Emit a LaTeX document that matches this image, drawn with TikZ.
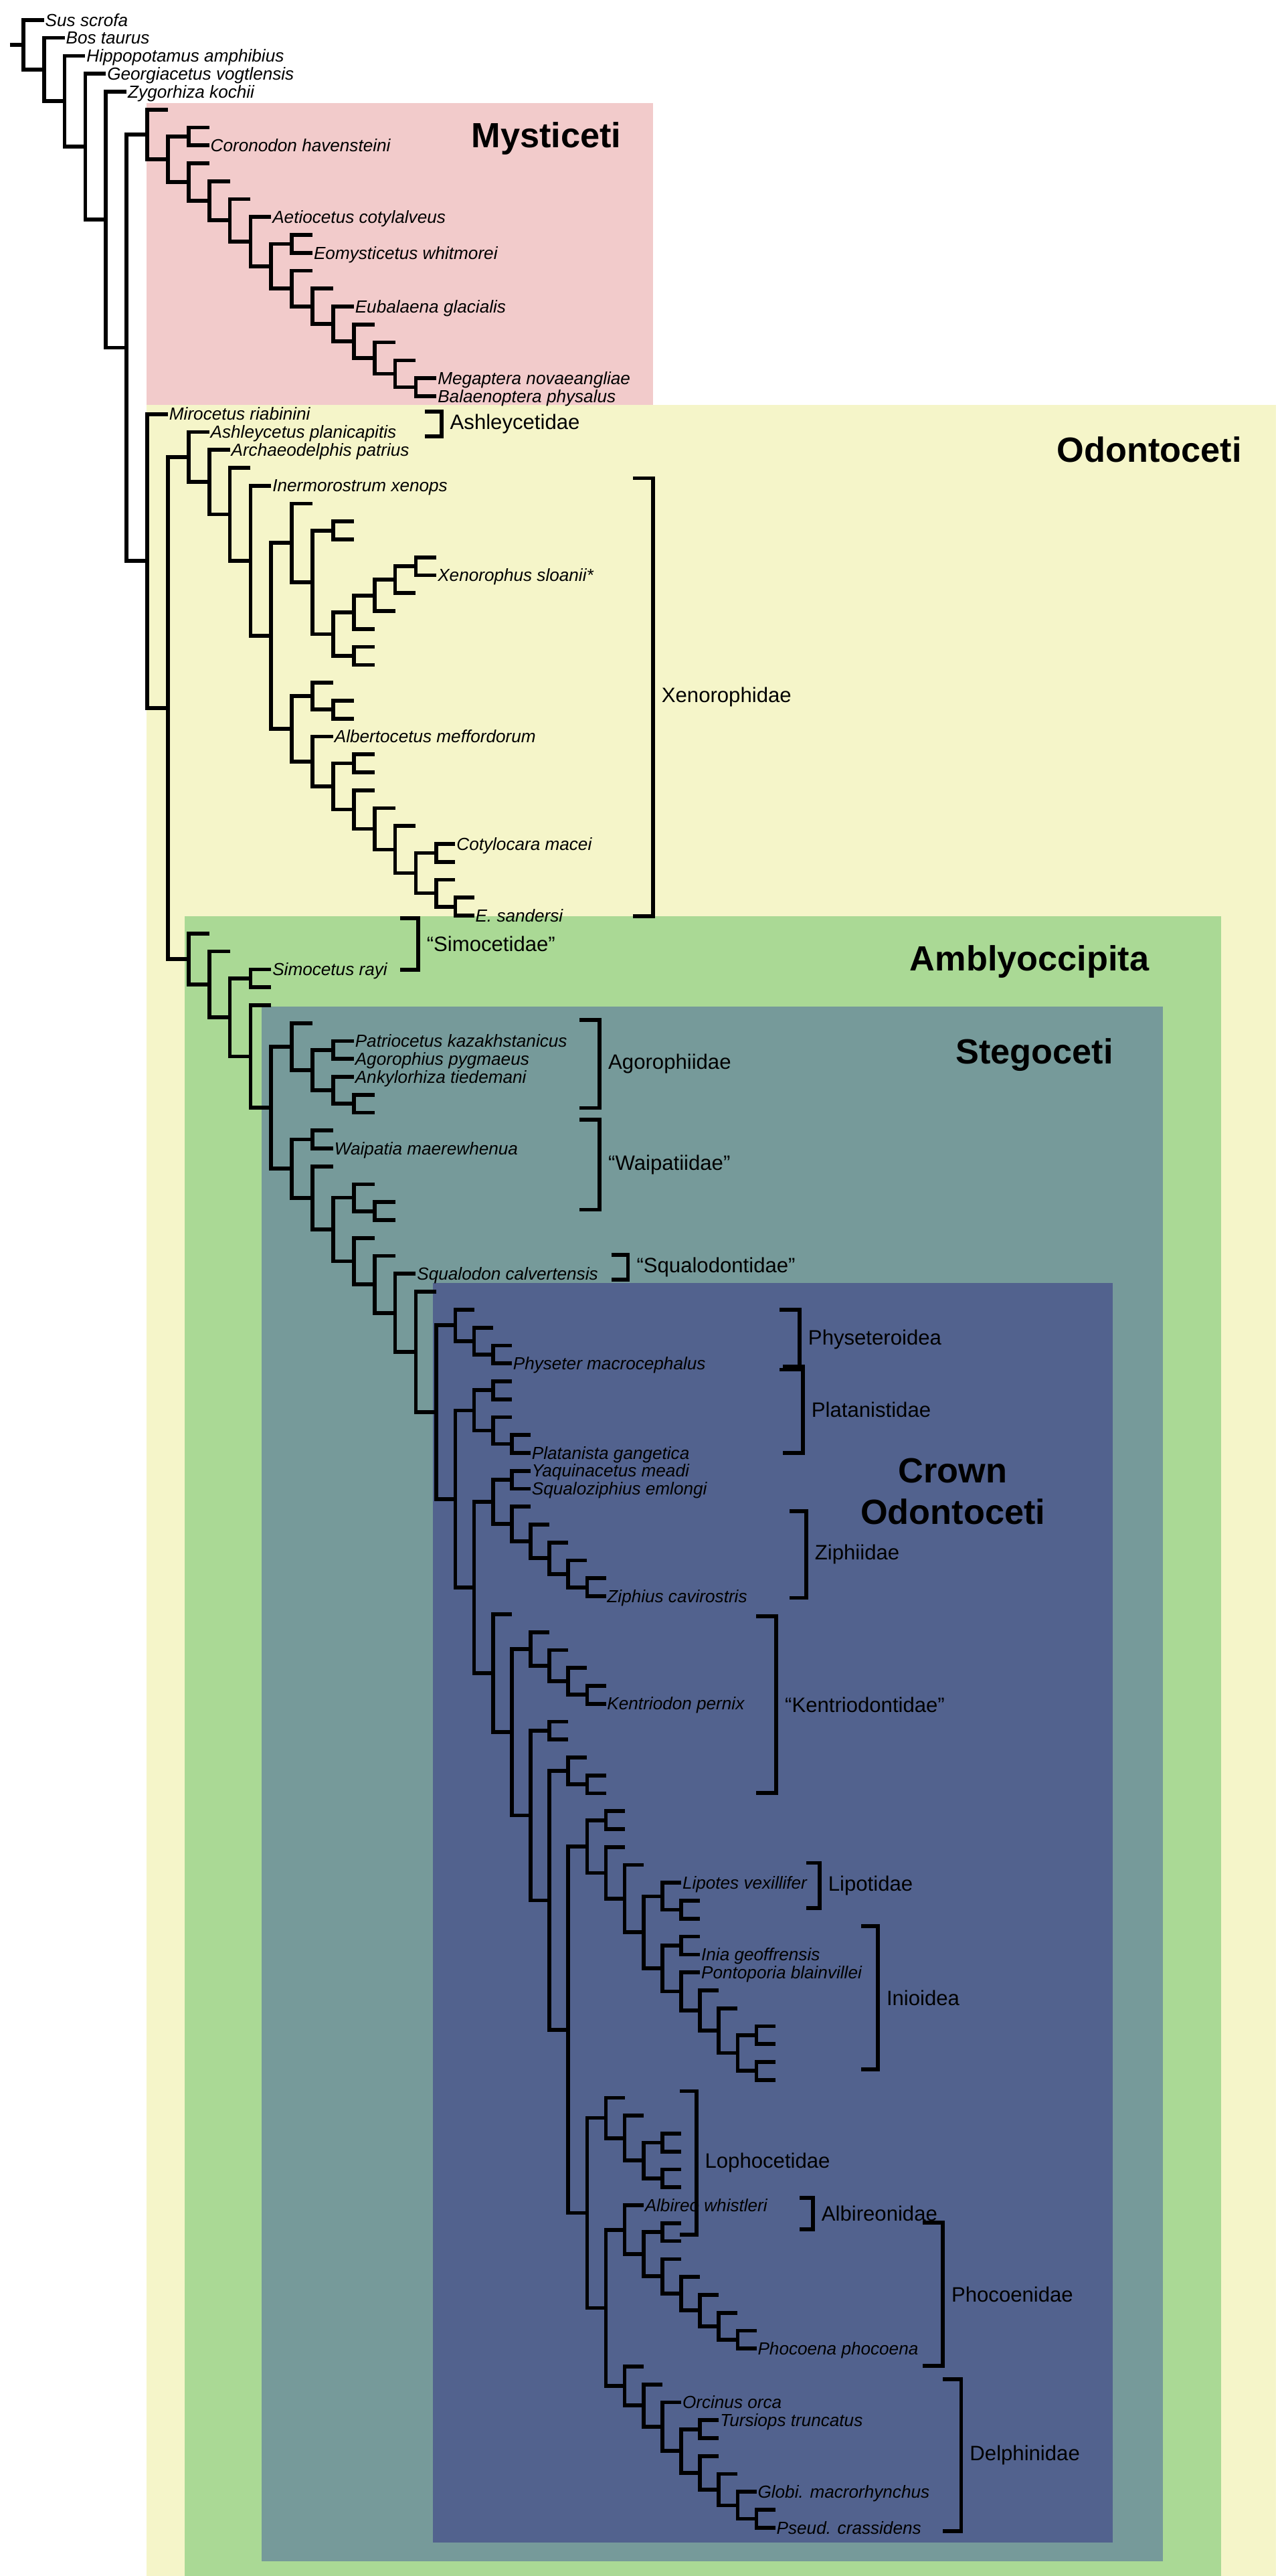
\documentclass[tikz,border=0pt]{standalone}
\usepackage{fontspec}
\setmainfont{Liberation Sans}
\usetikzlibrary{calc}
\definecolor{cmyst}{HTML}{F2CBCB}
\definecolor{codo}{HTML}{F5F5C9}
\definecolor{camb}{HTML}{AAD995}
\definecolor{csteg}{HTML}{769A9A}
\definecolor{ccrown}{HTML}{52628E}
\newcount\trdd \newcount\trlc \newcount\trnc
\def\trsetX{\pgfmathsetmacro\trX{\the\trdd<=20 ? 14+12.4*\the\trdd : 262+11.3*(\the\trdd-20)}}
\def\Lf#1{\trsetX\pgfmathsetmacro\trY{-(12+10.75*\the\trlc)}\global\advance\trlc by 1
 \node[leaf] (lf\the\trlc) at (\trX pt,\trY pt) {#1};\xdef\trlast{lf\the\trlc}}
\def\Nd#1#2{\begingroup\advance\trdd by 1 #1\endgroup\edef\trca{\trlast}%
 \begingroup\advance\trdd by 1 #2\endgroup\edef\trcb{\trlast}%
 \trsetX\global\advance\trnc by 1
 \path ($(\trca)!0.5!(\trcb)$) coordinate (tmp);
 \coordinate (in\the\trnc) at (\trX pt,0 |- tmp);
 \draw[br] (\trca) -| (in\the\trnc) |- (\trcb);
 \xdef\trlast{in\the\trnc}}
% subtrees
\def\trMB{\Nd{\Lf{}}{\Nd{\Lf{}}{\Nd{\Lf{Eubalaena glacialis}}{\Nd{\Lf{}}{\Nd{\Lf{}}{\Nd{\Lf{}}{\Nd{\Lf{Megaptera novaeangliae}}{\Lf{Balaenoptera physalus}}}}}}}}}
\def\trMYST{\Nd{\Lf{}}{\Nd{\Nd{\Lf{}}{\Lf{Coronodon havensteini}}}{\Nd{\Lf{}}{\Nd{\Lf{}}{\Nd{\Lf{}}{\Nd{\Lf{Aetiocetus cotylalveus}}{\Nd{\Nd{\Lf{}}{\Lf{Eomysticetus whitmorei}}}{\trMB}}}}}}}}
\def\trXAa{\Nd{\Nd{\Nd{\Nd{\Lf{}}{\Lf{Xenorophus sloanii*}}}{\Lf{}}}{\Lf{}}}{\Lf{}}}
\def\trXA{\Nd{\Lf{}}{\Nd{\Nd{\Lf{}}{\Lf{}}}{\Nd{\trXAa}{\Nd{\Lf{}}{\Lf{}}}}}}
\def\trXBb{\Nd{\Nd{\Lf{Cotylocara macei}}{\Lf{}}}{\Nd{\Lf{}}{\Nd{\Lf{}}{\Lf{E. sandersi}}}}}
\def\trXB{\Nd{\Nd{\Lf{}}{\Nd{\Lf{}}{\Lf{}}}}{\Nd{\Lf{Albertocetus meffordorum}}{\Nd{\Nd{\Lf{}}{\Lf{}}}{\Nd{\Lf{}}{\Nd{\Lf{}}{\Nd{\Lf{}}{\trXBb}}}}}}}
\def\trOtwo{\Nd{\Lf{Ashleycetus planicapitis}}{\Nd{\Lf{Archaeodelphis patrius}}{\Nd{\Lf{}}{\Nd{\Lf{Inermorostrum xenops}}{\Nd{\trXA}{\trXB}}}}}}
\def\trSA{\Nd{\Lf{}}{\Nd{\Nd{\Lf{Patriocetus kazakhstanicus}}{\Lf{Agorophius pygmaeus}}}{\Nd{\Lf{Ankylorhiza tiedemani}}{\Nd{\Lf{}}{\Lf{}}}}}}
\def\trPHY{\Nd{\Lf{}}{\Nd{\Lf{}}{\Nd{\Lf{}}{\Lf{Physeter macrocephalus}}}}}
\def\trPLAT{\Nd{\Nd{\Lf{}}{\Lf{}}}{\Nd{\Lf{}}{\Nd{\Lf{}}{\Lf{Platanista gangetica}}}}}
\def\trZI{\Nd{\Nd{\Lf{Yaquinacetus meadi}}{\Lf{Squaloziphius emlongi}}}{\Nd{\Lf{}}{\Nd{\Lf{}}{\Nd{\Lf{}}{\Nd{\Lf{}}{\Nd{\Lf{}}{\Lf{Ziphius cavirostris}}}}}}}}
\def\trKONE{\Nd{\Lf{}}{\Nd{\Lf{}}{\Nd{\Lf{}}{\Nd{\Lf{}}{\Lf{Kentriodon pernix}}}}}}
\def\trKA{\Nd{\Lf{}}{\Nd{\Lf{}}{\Lf{}}}}
\def\trLIP{\Nd{\Lf{Lipotes vexillifer}}{\Nd{\Lf{}}{\Lf{}}}}
\def\trINI{\Nd{\Nd{\Lf{}}{\Lf{Inia geoffrensis}}}{\Nd{\Lf{Pontoporia blainvillei}}{\Nd{\Lf{}}{\Nd{\Lf{}}{\Nd{\Nd{\Lf{}}{\Lf{}}}{\Nd{\Lf{}}{\Lf{}}}}}}}}
\def\trCEIGHT{\Nd{\Nd{\Lf{}}{\Lf{}}}{\Nd{\Lf{}}{\Nd{\Lf{}}{\Nd{\trLIP}{\trINI}}}}}
\def\trLO{\Nd{\Lf{}}{\Nd{\Lf{}}{\Nd{\Nd{\Lf{}}{\Lf{}}}{\Nd{\Lf{}}{\Lf{}}}}}}
\def\trPH{\Nd{\Lf{Albireo whistleri}}{\Nd{\Nd{\Lf{}}{\Lf{}}}{\Nd{\Lf{}}{\Nd{\Lf{}}{\Nd{\Lf{}}{\Nd{\Lf{}}{\Nd{\Lf{}}{\Lf{Phocoena phocoena}}}}}}}}}
\def\trDE{\Nd{\Lf{}}{\Nd{\Lf{}}{\Nd{\Lf{Orcinus orca}}{\Nd{\Nd{\Lf{Tursiops truncatus}}{\Lf{}}}{\Nd{\Lf{}}{\Nd{\Lf{}}{\Nd{\Lf{Globi. macrorhynchus}}{\Nd{\Lf{}}{\Lf{Pseud. crassidens}}}}}}}}}}
\def\trCROWN{\Nd{\trPHY}{\Nd{\trPLAT}{\Nd{\trZI}{\Nd{\Lf{}}{\Nd{\trKONE}{\Nd{\Nd{\Lf{}}{\Lf{}}}{\Nd{\trKA}{\Nd{\trCEIGHT}{\Nd{\trLO}{\Nd{\trPH}{\trDE}}}}}}}}}}}
\def\trSTEG{\Nd{\trSA}{\Nd{\Nd{\Lf{}}{\Lf{Waipatia maerewhenua}}}{\Nd{\Lf{}}{\Nd{\Nd{\Lf{}}{\Nd{\Lf{}}{\Lf{}}}}{\Nd{\Lf{}}{\Nd{\Lf{}}{\Nd{\Lf{Squalodon calvertensis}}{\Nd{\Lf{}}{\trCROWN}}}}}}}}}
\def\trAMB{\Nd{\Lf{}}{\Nd{\Lf{}}{\Nd{\Nd{\Lf{Simocetus rayi}}{\Lf{}}}{\Nd{\Lf{}}{\trSTEG}}}}}
\def\trODON{\Nd{\Lf{Mirocetus riabinini}}{\Nd{\trOtwo}{\trAMB}}}
\def\trALL{\Nd{\Lf{Sus scrofa}}{\Nd{\Lf{Bos taurus}}{\Nd{\Lf{Hippopotamus amphibius}}{\Nd{\Lf{Georgiacetus vogtlensis}}{\Nd{\Lf{Zygorhiza kochii}}{\Nd{\trMYST}{\trODON}}}}}}}
\begin{document}
\begin{tikzpicture}[x=1pt,y=-1pt,
  br/.style={line width=2.3pt,black,line join=miter},
  leaf/.style={anchor=west,inner sep=0pt,inner xsep=0.6pt,text height=7.4pt,text depth=0pt,font=\fontsize{10.5}{10.5}\selectfont\itshape},
  glab/.style={anchor=west,inner sep=0pt,font=\fontsize{12.5}{12.5}\selectfont},
  title/.style={inner sep=0pt,font=\fontsize{21}{25}\selectfont\bfseries,align=center}]
\useasboundingbox (0,0) rectangle (768,1546);
\fill[codo] (88,243) rectangle (766,1557);
\fill[cmyst] (88,62) rectangle (392,243);
\fill[camb] (111,550) rectangle (733,1546);
\fill[csteg] (157,604) rectangle (698,1537);
\fill[ccrown] (260,770) rectangle (668,1526);
\node[title] (tmy) at (328,83) {Mysticeti};
\node[title] (tod) at (690,270) {Odontoceti};
\node[title] (tam) at (618,577) {Amblyoccipita};
\node[title] (tst) at (621,633) {Stegoceti};
\node[title] (tcr) at (572,895) {Crown\\Odontoceti};
\trALL
\coordinate (stub) at ($(\trlast)+(-8pt,0)$);
\draw[br] (stub) -- (\trlast);
% clade brackets
\newcommand\clbr[6]{\draw[br] (#1,#3) -- (#2,#3) -- (#2,#4) -- (#1,#4);
  \node[glab] (#6) at ($(#2,{(#3+#4)/2})+(5,0)$) {#5};}
\clbr{255}{265}{247}{262}{Ashleycetidae}{gAsh}
\clbr{380}{392}{287}{550}{Xenorophidae}{gXen}
\clbr{240}{251}{551}{582}{“Simocetidae”}{gSim}
\clbr{348}{360}{612}{665}{Agorophiidae}{gAgo}
\clbr{348}{360}{672}{726}{“Waipatiidae”}{gWai}
\clbr{367}{377}{753}{768}{“Squalodontidae”}{gSqu}
\clbr{468}{480}{786}{822}{Physeteroidea}{gPhy}
\clbr{470}{482}{820}{872}{Platanistidae}{gPla}
\clbr{474}{484}{907}{959}{Ziphiidae}{gZip}
\clbr{454}{466}{970}{1076}{“Kentriodontidae”}{gKen}
\clbr{484}{492}{1118}{1145}{Lipotidae}{gLip}
\clbr{517}{527}{1156}{1242}{Inioidea}{gIni}
\clbr{408}{418}{1255}{1341}{Lophocetidae}{gLop}
\clbr{480}{488}{1319}{1338}{Albireonidae}{gAlb}
\clbr{554}{566}{1334}{1420}{Phocoenidae}{gPho}
\clbr{566}{577}{1428}{1519}{Delphinidae}{gDel}
\end{tikzpicture}
\end{document}
